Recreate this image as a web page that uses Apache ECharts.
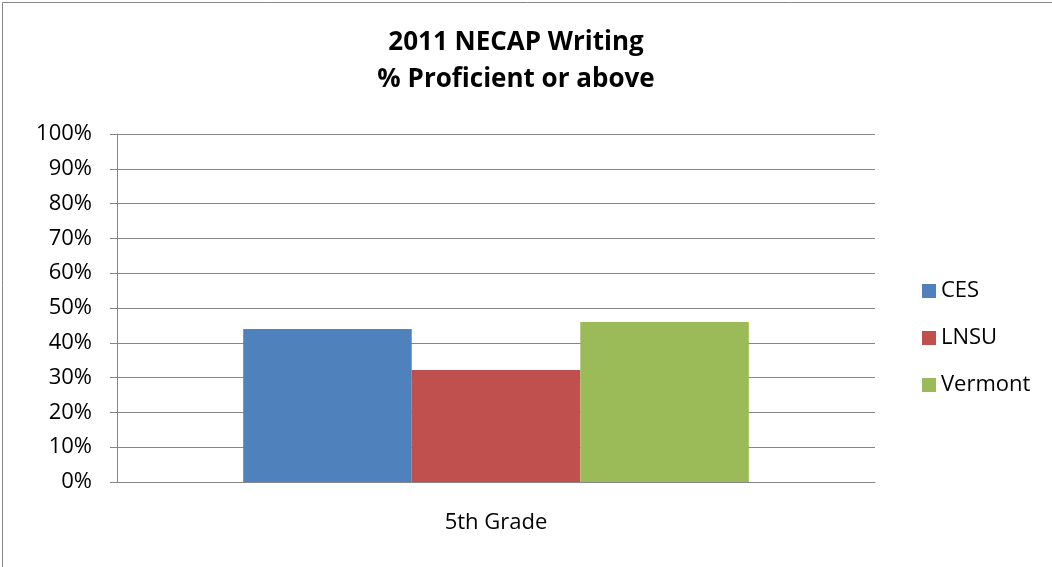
<!DOCTYPE html>
<html>
<head>
<meta charset="utf-8">
<script src="https://cdn.jsdelivr.net/npm/echarts@6/dist/echarts.min.js"></script>
<style>
  html, body { margin: 0; padding: 0; background: #fff; overflow: hidden; }
  #main { width: 1052px; height: 567px; }
</style>
</head>
<body>
<div id="main"></div>
<script>
// data
var categories = ['5th Grade'];
var seriesNames = ['CES', 'LNSU', 'Vermont'];
var ces = [44];
var lnsu = [32.2];
var vermont = [46];
var colors = ['#4F81BD', '#C0504D', '#9BBB59'];

var font = '"Open Sans", "Noto Sans", sans-serif';
var gray = '#868686';

var myChart = echarts.init(document.getElementById('main'));

var option = {
    animation: false,
    color: colors,
    textStyle: { fontFamily: font },
    title: {
        text: '2011 NECAP Writing\n% Proficient or above',
        left: 511,
        textAlign: 'center',
        top: 19,
        textStyle: {
            fontFamily: font,
            fontWeight: 'bold',
            fontSize: 26,
            lineHeight: 37,
            color: '#000'
        }
    },
    legend: {
        data: seriesNames,
        orient: 'vertical',
        left: 917,
        top: 275,
        itemWidth: 14,
        itemHeight: 14,
        itemGap: 25,
        icon: 'rect',
        textStyle: { fontFamily: font, fontSize: 22, lineHeight: 22, color: '#000' }
    },
    grid: { left: 117, right: 177, top: 134, bottom: 85 },
    xAxis: {
        type: 'category',
        data: categories,
        axisLine: { lineStyle: { color: gray, width: 1 } },
        axisTick: { length: 8, lineStyle: { color: gray } },
        axisLabel: { fontFamily: font, fontSize: 22, lineHeight: 22, color: '#000', margin: 30 }
    },
    yAxis: {
        type: 'value',
        min: 0,
        max: 100,
        interval: 10,
        axisLine: { show: true, lineStyle: { color: gray } },
        axisTick: { show: true, length: 7, lineStyle: { color: gray } },
        splitLine: { lineStyle: { color: gray } },
        axisLabel: {
            fontFamily: font, fontSize: 22, color: '#000', margin: 25,
            formatter: '{value}%'
        }
    },
    graphic: [{
        type: 'rect',
        shape: { x: 2.5, y: 2.5, width: 1100, height: 700 },
        style: { fill: 'none', stroke: '#878787', lineWidth: 1 },
        silent: true
    }],
    series: [
        { name: 'CES', type: 'bar', data: ces, barGap: '0%', barCategoryGap: '33.3%' },
        { name: 'LNSU', type: 'bar', data: lnsu, barGap: '0%', barCategoryGap: '33.3%' },
        { name: 'Vermont', type: 'bar', data: vermont, barGap: '0%', barCategoryGap: '33.3%' }
    ]
};

myChart.setOption(option);
</script>
</body>
</html>
